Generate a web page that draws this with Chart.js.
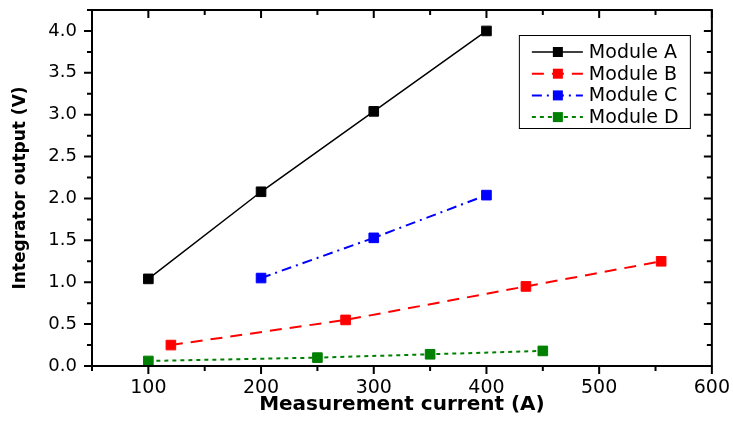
<!DOCTYPE html>
<html>
<head>
<meta charset="utf-8">
<script src="https://cdn.jsdelivr.net/npm/chart.js@4.4.0/dist/chart.umd.min.js"></script>
<style>
  html, body { margin: 0; padding: 0; background: #fff; }
  #wrap { width: 733px; height: 421px; }
</style>
</head>
<body>
<div id="wrap"><canvas id="chart" width="733" height="421"></canvas></div>
<script>
// values
const moduleAX = [100, 200, 300, 400];
const moduleAY = [1.04, 2.08, 3.04, 4.0];
const moduleBX = [120, 275, 435, 555];
const moduleBY = [0.25, 0.55, 0.95, 1.25];
const moduleCX = [200, 300, 400];
const moduleCY = [1.05, 1.53, 2.04];
const moduleDX = [100, 250, 350, 450];
const moduleDY = [0.06, 0.10, 0.14, 0.18];

const seriesNames = ['Module A', 'Module B', 'Module C', 'Module D'];

const xMin = 50, xMax = 600, xStep = 50;
const yMin = 0, yMax = 4.25, yStep = 0.25;

const pts = (xs, ys) => xs.map((x, i) => ({ x: x, y: ys[i] }));

function series(label, xs, ys, color, dash, width) {
    return {
        label: label,
        data: pts(xs, ys),
        borderColor: color,
        backgroundColor: color,
        borderWidth: width,
        borderDash: dash,
        pointStyle: 'rect',
        pointRadius: 6.8,
        pointBorderWidth: 1,
        pointBackgroundColor: color,
        pointBorderColor: color,
        tension: 0
    };
}

const datasets = [
    series(seriesNames[0], moduleAX, moduleAY, '#000000', [], 1.5),
    series(seriesNames[1], moduleBX, moduleBY, '#ff0000', [12, 8], 2),
    series(seriesNames[2], moduleCX, moduleCY, '#0000ff', [10, 5, 2, 5], 2),
    series(seriesNames[3], moduleDX, moduleDY, '#008000', [4, 4], 2)
];

// frame + ticks like the origin plot (out on left/bottom, in on top/right)
const frameTicks = {
    id: 'frameTicks',
    afterDraw(chart) {
        const { ctx, chartArea: a, scales: { x, y } } = chart;
        ctx.save();
        ctx.strokeStyle = '#000';
        ctx.lineWidth = 2;
        ctx.beginPath();
        x.ticks.forEach(t => {
            const px = x.getPixelForValue(t.value);
            const len = t.value % 100 === 0 ? 8 : 5;
            ctx.moveTo(px, a.bottom); ctx.lineTo(px, a.bottom + len);
            ctx.moveTo(px, a.top); ctx.lineTo(px, a.top + len);
        });
        y.ticks.forEach(t => {
            const py = y.getPixelForValue(t.value);
            const len = Math.abs(t.value * 2 - Math.round(t.value * 2)) < 1e-6 ? 8 : 5;
            ctx.moveTo(a.left, py); ctx.lineTo(a.left - len, py);
            ctx.moveTo(a.right, py); ctx.lineTo(a.right - len, py);
        });
        ctx.stroke();
        ctx.strokeRect(a.left, a.top, a.right - a.left, a.bottom - a.top);
        ctx.restore();
    }
};

// boxed legend inside the plot, line + marker sample
const boxLegend = {
    id: 'boxLegend',
    afterDraw(chart) {
        const { ctx, chartArea: a } = chart;
        const bx = a.right - 193, by = a.top + 25, bw = 171, bh = 93;
        ctx.save();
        ctx.strokeStyle = '#000';
        ctx.lineWidth = 1;
        ctx.strokeRect(bx + 0.5, by + 0.5, bw, bh);
        ctx.font = '19px "DejaVu Sans"';
        ctx.textBaseline = 'middle';
        chart.data.datasets.forEach((ds, i) => {
            const ry = by + 17 + i * 21.7;
            ctx.strokeStyle = ds.borderColor;
            ctx.lineWidth = ds.borderWidth;
            ctx.setLineDash(ds.borderDash);
            ctx.beginPath();
            ctx.moveTo(bx + 13, ry);
            ctx.lineTo(bx + 64, ry);
            ctx.stroke();
            ctx.setLineDash([]);
            ctx.fillStyle = ds.pointBackgroundColor;
            ctx.fillRect(bx + 34, ry - 5, 10, 10);
            ctx.fillStyle = '#000';
            ctx.fillText(ds.label, bx + 70, ry + 1);
        });
        ctx.restore();
    }
};

const config = {
    type: 'line',
    data: { datasets: datasets },
    options: {
        responsive: false,
        animation: false,
        layout: { padding: { top: 10, right: 21, left: 0, bottom: 0 } },
        plugins: {
            legend: { display: false },
            tooltip: { enabled: false }
        },
        scales: {
            x: {
                type: 'linear',
                min: xMin,
                max: xMax,
                afterFit: s => { s.height = 55; },
                grid: { drawOnChartArea: false, drawTicks: true, tickLength: 8, color: 'rgba(0,0,0,0)' },
                border: { display: false },
                ticks: {
                    stepSize: xStep,
                    autoSkip: false,
                    maxRotation: 0,
                    padding: 3,
                    color: '#000',
                    font: { family: '"DejaVu Sans"', size: 19 },
                    callback: v => (v % 100 === 0 ? String(v) : '')
                },
                title: {
                    display: true,
                    text: 'Measurement current (A)',
                    color: '#000',
                    font: { family: '"DejaVu Sans"', size: 20, weight: 'bold' },
                    padding: { top: 4, bottom: 4 }
                }
            },
            y: {
                type: 'linear',
                min: yMin,
                max: yMax,
                afterFit: s => { s.width = 92; s.paddingTop = 0; s.paddingBottom = 0; },
                grid: { drawOnChartArea: false, drawTicks: true, tickLength: 8, color: 'rgba(0,0,0,0)' },
                border: { display: false },
                ticks: {
                    stepSize: yStep,
                    autoSkip: false,
                    padding: 7,
                    color: '#000',
                    font: { family: '"DejaVu Sans"', size: 18 },
                    callback: v => (Math.abs(v * 2 - Math.round(v * 2)) < 1e-6 ? v.toFixed(1) : '')
                },
                title: {
                    display: true,
                    text: 'Integrator output (V)',
                    color: '#000',
                    font: { family: '"DejaVu Sans"', size: 17, weight: 'bold' },
                    padding: { top: 10, bottom: 10 }
                }
            }
        }
    },
    plugins: [frameTicks, boxLegend]
};

const chart = new Chart(document.getElementById('chart').getContext('2d'), config);
</script>
</body>
</html>
